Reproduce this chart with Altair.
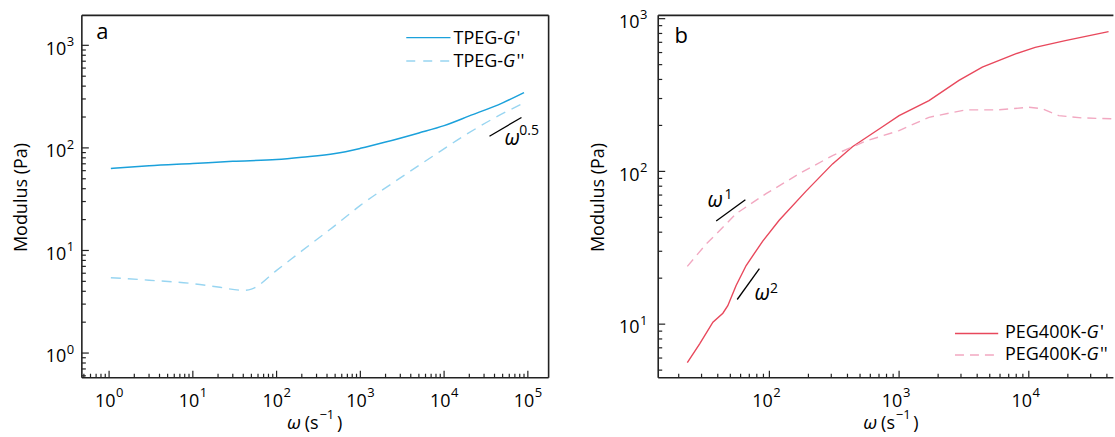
import altair as alt
import pandas as pd

FONT = "Open Sans"

# ---------------- Panel a (TPEG) ----------------
a_gp_w = [1.05, 3, 10, 30, 100, 200, 500, 1000, 2000, 5000, 10000, 20000, 50000, 90000]
a_gp_m = [63, 67, 70.5, 74, 77, 81, 88, 99, 114, 140, 165, 205, 275, 346]
a_gpp_w = [1.05, 3, 10, 20, 40, 50, 100, 200, 472, 1000, 2940, 7340, 18300, 40000, 90000]
a_gpp_m = [5.43, 5.13, 4.75, 4.4, 4.09, 4.2, 6.4, 9.9, 16.9, 27.5, 50.4, 83, 135, 196, 275]
a_slope_w = [34800, 83900]
a_slope_m = [130, 198]
a_ann_w = [52500]
a_ann_m = [106]
a_sup_w = [79200]
a_sup_m = [133]
a_sup_t = ["0.5"]

# ---------------- Panel b (PEG400K) ----------------
b_gp_w = [23.3, 29, 36.7, 43.8, 47.8, 55.4, 66.2, 88.9, 119, 191, 307, 437, 745, 1000,
          1700, 2895, 4380, 7900, 11200, 19100, 41200]
b_gp_m = [5.59, 7.43, 10.3, 11.8, 13.2, 17.9, 24.2, 35, 47.9, 74, 112, 145, 196, 232,
          291, 394, 481, 588, 649, 718, 822]
b_gpp_w = [23.3, 32.6, 47.8, 55.4, 94.3, 170, 307, 554, 1000, 1700, 3260, 5880, 10000,
           12700, 17000, 25700, 43700]
b_gpp_m = [23.9, 33.5, 46.4, 52.9, 71.5, 96.6, 127, 158, 185, 226, 253, 253, 263,
           257, 232, 224, 221]
b_slope1_w = [38.9, 65.3]
b_slope1_m = [47.3, 65.3]
b_slope2_w = [56.5, 83.8]
b_slope2_m = [14.5, 23.1]
b_ann_w = [33.3, 76.7]
b_ann_m = [58.5, 14.4]
b_sup_w = [45.1, 101]
b_sup_m = [66.4, 16.0]
b_sup_t = ["1", "2"]

# ---------------- ticks ----------------
a_xmaj = [1, 10, 100, 1000, 10000, 100000]
a_xexp = ["0", "1", "2", "3", "4", "5"]
a_xmin = [k * 10.0 ** d for d in range(-1, 5) for k in range(2, 10) if 0.473 < k * 10.0 ** d < 177000]
a_ymaj = [1, 10, 100, 1000]
a_yexp = ["0", "1", "2", "3"]
a_ymin = [k * 10.0 ** d for d in range(-1, 3) for k in range(2, 10) if 0.575 < k * 10.0 ** d < 1959]

b_xmaj = [100, 1000, 10000]
b_xexp = ["2", "3", "4"]
b_xmin = [k * 10.0 ** d for d in range(1, 5) for k in range(2, 10) if 13.9 < k * 10.0 ** d < 44900]
b_ymaj = [10, 100, 1000]
b_yexp = ["1", "2", "3"]
b_ymin = [k * 10.0 ** d for d in range(0, 3) for k in range(2, 10) if 4.46 < k * 10.0 ** d < 1051]

BLUE = "#1BA1DB"
LBLUE = "#98D5F1"
RED = "#E8485C"
PINK = "#F2A8C1"


def one():
    return pd.DataFrame({"z": [0]})


def build(W, H, xdom, ydom, lines, slopes, ann, sup, xmaj, xexp, xmin, ymaj, yexp, ymin,
          xlab_dx, ylab_x, letter, letter_xy, legend, right_border, anchor, interp):
    xs = alt.Scale(type="log", domain=xdom, nice=False)
    ys = alt.Scale(type="log", domain=ydom, nice=False)
    X = alt.X("w:Q", scale=xs, axis=None)
    Y = alt.Y("m:Q", scale=ys, axis=None)
    L = []
    for w, m, color, dash, dw in lines:
        kw = dict(color=color, strokeWidth=dw, interpolate=interp)
        if dash:
            kw["strokeDash"] = dash
        L.append(alt.Chart(pd.DataFrame({"w": w, "m": m})).mark_line(**kw).encode(x=X, y=Y))
    for w, m in slopes:
        L.append(alt.Chart(pd.DataFrame({"w": w, "m": m})).mark_line(color="black", strokeWidth=1.3)
                 .encode(x=X, y=Y))
    aw, am = ann
    L.append(alt.Chart(pd.DataFrame({"w": aw, "m": am, "t": ["ω"] * len(aw)}))
             .mark_text(font=FONT, fontSize=21, fontStyle="italic", align="left", baseline="alphabetic")
             .encode(x=X, y=Y, text="t:N"))
    sw, sm, st = sup
    L.append(alt.Chart(pd.DataFrame({"w": sw, "m": sm, "t": st}))
             .mark_text(font=FONT, fontSize=14, align="left", baseline="alphabetic")
             .encode(x=X, y=Y, text="t:N"))
    # frame
    fr = dict(color="#222222", strokeWidth=1.6)
    L.append(alt.Chart(one()).mark_rule(**fr).encode(x=alt.value(0), x2=alt.value(W), y=alt.value(0)))
    L.append(alt.Chart(one()).mark_rule(**fr).encode(x=alt.value(0), x2=alt.value(W), y=alt.value(H)))
    L.append(alt.Chart(one()).mark_rule(**fr).encode(x=alt.value(0), y=alt.value(0), y2=alt.value(H)))
    if right_border:
        L.append(alt.Chart(one()).mark_rule(**fr).encode(x=alt.value(W), y=alt.value(0), y2=alt.value(H)))
    # ticks
    tk = dict(color="#222222", strokeWidth=1.2)
    L.append(alt.Chart(pd.DataFrame({"w": xmaj})).mark_rule(**tk)
             .encode(x=X, y=alt.value(H), y2=alt.value(H - 7)))
    L.append(alt.Chart(pd.DataFrame({"w": xmin})).mark_rule(**tk)
             .encode(x=X, y=alt.value(H), y2=alt.value(H - 4)))
    L.append(alt.Chart(pd.DataFrame({"m": ymaj})).mark_rule(**tk)
             .encode(y=Y, x=alt.value(0), x2=alt.value(7)))
    L.append(alt.Chart(pd.DataFrame({"m": ymin})).mark_rule(**tk)
             .encode(y=Y, x=alt.value(0), x2=alt.value(4)))
    # tick labels
    xl = pd.DataFrame({"w": xmaj, "t": ["10"] * len(xmaj), "e": xexp})
    L.append(alt.Chart(xl).mark_text(font=FONT, fontSize=18, align="right", baseline="alphabetic", dx=xlab_dx)
             .encode(x=X, y=alt.value(H + 29.3), text="t:N"))
    L.append(alt.Chart(xl).mark_text(font=FONT, fontSize=13, align="left", baseline="alphabetic", dx=xlab_dx + 0.5)
             .encode(x=X, y=alt.value(H + 19.3), text="e:N"))
    yl = pd.DataFrame({"m": ymaj, "t": ["10"] * len(ymaj), "e": yexp})
    L.append(alt.Chart(yl).mark_text(font=FONT, fontSize=18, align="right", baseline="alphabetic", dy=9.3)
             .encode(y=Y, x=alt.value(ylab_x), text="t:N"))
    L.append(alt.Chart(yl).mark_text(font=FONT, fontSize=13, align="left", baseline="alphabetic", dy=0.8)
             .encode(y=Y, x=alt.value(ylab_x + 0.5), text="e:N"))
    # axis titles
    L.append(alt.Chart(one()).mark_text(font=FONT, fontSize=18, angle=270, align="center",
                                        baseline="alphabetic", text="Modulus (Pa)")
             .encode(x=alt.value(-54.5), y=alt.value(H / 2 + 1)))
    ty = H + 51
    L.append(alt.Chart(one()).mark_text(font=FONT, fontSize=19, fontStyle="italic", align="left",
                                        baseline="alphabetic", text="ω")
             .encode(x=alt.value(205.5), y=alt.value(ty)))
    L.append(alt.Chart(one()).mark_text(font=FONT, fontSize=18, align="left", baseline="alphabetic", text="(s")
             .encode(x=alt.value(223.3), y=alt.value(ty)))
    L.append(alt.Chart(one()).mark_text(font=FONT, fontSize=13, align="left", baseline="alphabetic", text="−1")
             .encode(x=alt.value(238), y=alt.value(ty - 10)))
    L.append(alt.Chart(one()).mark_text(font=FONT, fontSize=18, align="left", baseline="alphabetic", text=")")
             .encode(x=alt.value(255.5), y=alt.value(ty)))
    # panel letter
    L.append(alt.Chart(one()).mark_text(font=FONT, fontSize=22, align="left", baseline="alphabetic", text=letter)
             .encode(x=alt.value(letter_xy[0]), y=alt.value(letter_xy[1])))
    # legend
    for (x1, x2, ly, color, dash, pre, gx, px, primes, tb) in legend:
        kw = dict(color=color, strokeWidth=1.4)
        if dash:
            kw["strokeDash"] = dash
        L.append(alt.Chart(one()).mark_rule(**kw).encode(x=alt.value(x1), x2=alt.value(x2), y=alt.value(ly)))
        L.append(alt.Chart(one()).mark_text(font=FONT, fontSize=18, align="right", baseline="alphabetic", text=pre)
                 .encode(x=alt.value(gx), y=alt.value(tb)))
        L.append(alt.Chart(one()).mark_text(font=FONT, fontSize=18, fontStyle="italic", align="left",
                                            baseline="alphabetic", text="G")
                 .encode(x=alt.value(gx), y=alt.value(tb)))
        L.append(alt.Chart(one()).mark_text(font=FONT, fontSize=18, align="left", baseline="alphabetic", text=primes)
                 .encode(x=alt.value(px), y=alt.value(tb)))
    if anchor:
        L.append(alt.Chart(one()).mark_rule(color="white", strokeWidth=1)
                 .encode(x=alt.value(-81.2), x2=alt.value(-80), y=alt.value(-14.5)))
    return alt.layer(*L).properties(width=W, height=H)


H = 363
pa = build(
    467.6, H, [0.473, 177000], [0.575, 1959],
    [(a_gp_w, a_gp_m, BLUE, None, 1.5), (a_gpp_w, a_gpp_m, LBLUE, [10, 7], 1.4)],
    [(a_slope_w, a_slope_m)],
    (a_ann_w, a_ann_m), (a_sup_w, a_sup_m, a_sup_t),
    a_xmaj, a_xexp, a_xmin, a_ymaj, a_yexp, a_ymin,
    6.5, -15.7, "a", (14.3, 23.3),
    [(325, 369.3, 22.3, BLUE, None, "TPEG-", 422, 435.5, "'", 29),
     (325, 369.3, 45.7, LBLUE, [9, 8], "TPEG-", 422, 435.5, "''", 51.7)],
    True, True, "monotone",
)
pb = build(
    456, H, [13.9, 44900], [4.46, 1051],
    [(b_gp_w, b_gp_m, RED, None, 1.4), (b_gpp_w, b_gpp_m, PINK, [9, 6], 1.4)],
    [(b_slope1_w, b_slope1_m), (b_slope2_w, b_slope2_m)],
    (b_ann_w, b_ann_m), (b_sup_w, b_sup_m, b_sup_t),
    b_xmaj, b_xexp, b_xmin, b_ymaj, b_yexp, b_ymin,
    3.3, -18.7, "b", (16.3, 27.7),
    [(297.3, 340.6, 318.7, RED, None, "PEG400K-", 429, 442.5, "'", 323.3),
     (297.3, 340.6, 340.3, PINK, [9, 6], "PEG400K-", 429, 442.5, "''", 345)],
    False, False, "linear",
)

chart = alt.hconcat(pa, pb, spacing=109.4, bounds="flush").properties(
    padding={"left": 0, "top": 0, "right": 0, "bottom": 0}
).configure_view(stroke=None)

chart.save("out.html", embed_options={"renderer": "svg", "actions": False})
